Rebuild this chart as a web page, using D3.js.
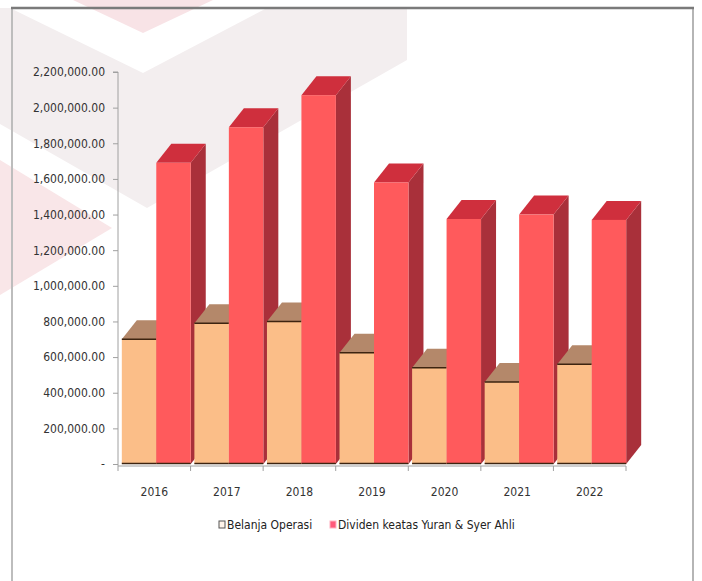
<!DOCTYPE html>
<html>
<head>
<meta charset="utf-8">
<script src="https://cdn.jsdelivr.net/npm/d3@7"></script>
<style>
  body { margin: 0; background: #fff; }
  text { font-family: "Liberation Sans Narrow", "DejaVu Sans Condensed", sans-serif; }
</style>
</head>
<body>
<div id="container"></div>
<script>
const years = ['2016', '2017', '2018', '2019', '2020', '2021', '2022']
const belanjaOperasi = [700000, 790000, 800000, 625000, 540000, 460000, 560000]
const dividen = [1690000, 1890000, 2070000, 1580000, 1375000, 1400000, 1370000]
const seriesNames = ['Belanja Operasi', 'Dividen keatas Yuran & Syer Ahli']
const yTickValues = [0, 200000, 400000, 600000, 800000, 1000000, 1200000,
  1400000, 1600000, 1800000, 2000000, 2200000]

const width = 702
const height = 581

const svg = d3.select('#container')
  .append('svg')
  .attr('width', width)
  .attr('height', height)
  .attr('viewBox', [0, 0, width, height])

// faint watermark behind the chart
const mark = svg.append('g')
mark.append('polygon')
  .attr('points', '0,8 407,8 407,60 147,208 0,124')
  .attr('fill', '#f3eeef')
mark.append('polygon')
  .attr('points', '12,9 143,73 267,8')
  .attr('fill', '#ffffff')
mark.append('polygon')
  .attr('points', '73,0 213,0 143,33')
  .attr('fill', '#f8e3e6')
mark.append('polygon')
  .attr('points', '0,160 112,228 0,295')
  .attr('fill', '#f9e6e8')

// frame
svg.append('line').attr('x1', 12).attr('x2', 12).attr('y1', 8).attr('y2', height)
  .attr('stroke', '#bdbdbd').attr('stroke-width', 2)
svg.append('line').attr('x1', 693).attr('x2', 693).attr('y1', 8).attr('y2', height)
  .attr('stroke', '#b5b5b5').attr('stroke-width', 2)
svg.append('line').attr('x1', 11).attr('x2', 694).attr('y1', 8).attr('y2', 8)
  .attr('stroke', '#7a7a7a').attr('stroke-width', 2.5)

const y = d3.scaleLinear()
  .domain([0, 2200000])
  .range([464, 72])

const x = d3.scaleBand()
  .domain(years)
  .range([118, 626])

const xb = d3.scaleBand()
  .domain(years)
  .range([120, 628])
  .paddingInner(0.05)
  .paddingOuter(0.025)

const xs = d3.scaleBand()
  .domain(seriesNames)
  .range([0, xb.bandwidth()])

const dx = 15
const dy = -19

const colors = {
  'Belanja Operasi': { front: '#fbbe88', top: '#b4886a', side: '#c08452', edge: '#3d2410' },
  'Dividen keatas Yuran & Syer Ahli': { front: '#ff5a5c', top: '#cf2f3d', side: '#a9303a', edge: '#ff5a5c' }
}

const bars = []
years.forEach((yr, i) => {
  bars.push({ year: yr, series: seriesNames[0], value: belanjaOperasi[i] })
  bars.push({ year: yr, series: seriesNames[1], value: dividen[i] })
})

const gBars = svg.append('g')

bars.forEach(d => {
  const x0 = xb(d.year) + xs(d.series)
  const x1 = x0 + xs.bandwidth()
  const y0 = y(0)
  const y1 = y(d.value)
  const c = colors[d.series]
  const g = gBars.append('g')
  // side
  g.append('polygon')
    .attr('points', [[x1, y0], [x1 + dx, y0 + dy], [x1 + dx, y1 + dy], [x1, y1]].join(' '))
    .attr('fill', c.side)
  // top
  g.append('polygon')
    .attr('points', [[x0, y1], [x0 + dx, y1 + dy], [x1 + dx, y1 + dy], [x1, y1]].join(' '))
    .attr('fill', c.top)
  // front
  g.append('rect')
    .attr('x', x0)
    .attr('y', y1)
    .attr('width', x1 - x0)
    .attr('height', y0 - y1)
    .attr('fill', c.front)
  if (d.series === seriesNames[0]) {
    g.append('line')
      .attr('x1', x0).attr('x2', x1)
      .attr('y1', y1).attr('y2', y1)
      .attr('stroke', c.edge).attr('stroke-width', 1.5)
  }
  // base edge
  g.append('line')
    .attr('x1', x0).attr('x2', x1)
    .attr('y1', y0 - 0.5).attr('y2', y0 - 0.5)
    .attr('stroke', '#3d2410').attr('stroke-width', 1.5)
})

// y axis
const yAxis = d3.axisLeft(y)
  .tickValues(yTickValues)
  .tickSize(5)
  .tickPadding(8)
  .tickFormat(d => d === 0 ? '-' : d3.format(',.2f')(d))

const gy = svg.append('g')
  .attr('transform', 'translate(118,0)')
  .call(yAxis)
gy.select('.domain').attr('stroke', '#a0a0a0').attr('d', 'M-5,72H0V466')
gy.selectAll('.tick line').attr('stroke', '#a0a0a0')
gy.selectAll('.tick text')
  .style('font-size', '12px')
  .style('fill', '#333')

// x axis
const gx = svg.append('g')
  .attr('transform', 'translate(0,466)')
gx.append('line')
  .attr('x1', 118).attr('x2', 626)
  .attr('stroke', '#a0a0a0')
gx.selectAll('line.tk')
  .data(years.concat(['end']))
  .join('line')
  .attr('class', 'tk')
  .attr('x1', (d, i) => 118 + i * x.step())
  .attr('x2', (d, i) => 118 + i * x.step())
  .attr('y1', 0).attr('y2', 5)
  .attr('stroke', '#a0a0a0')
gx.selectAll('text')
  .data(years)
  .join('text')
  .attr('x', d => x(d) + x.bandwidth() / 2)
  .attr('y', 30)
  .attr('text-anchor', 'middle')
  .style('font-size', '12px')
  .style('fill', '#333')
  .text(d => d)

// legend
const legend = svg.append('g')
  .attr('transform', 'translate(0,525)')
const legendItems = [
  { name: seriesNames[0], x: 219, fill: '#fff4ea', stroke: '#555' },
  { name: seriesNames[1], x: 330, fill: '#ff5a7a', stroke: '#ffb0c0' }
]
legendItems.forEach(it => {
  legend.append('rect')
    .attr('x', it.x).attr('y', -4)
    .attr('width', 6).attr('height', 7)
    .attr('fill', it.fill)
    .attr('stroke', it.stroke)
    .attr('stroke-width', 1)
  legend.append('text')
    .attr('x', it.x + 8)
    .attr('y', 4)
    .style('font-size', '12px')
    .style('fill', '#222')
    .text(it.name)
})
</script>
</body>
</html>
